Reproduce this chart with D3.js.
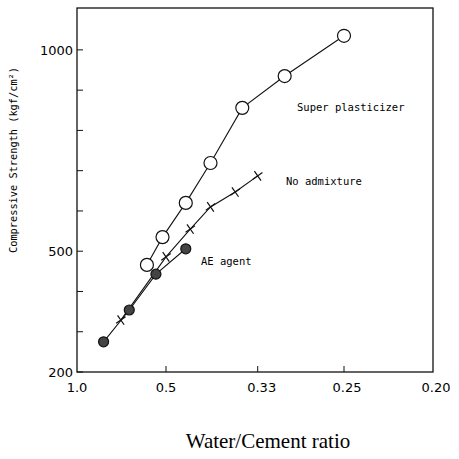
<!DOCTYPE html>
<html lang="en">
  <head>
    <meta charset="utf-8">
    <title>Compressive strength vs W/C</title>
    <script src="https://cdn.jsdelivr.net/npm/d3@7"></script>
  </head>
  <style>
    body, html { margin: 0; padding: 0; background: #fff; }
    svg { display: block; }
  </style>
  <body>
    <svg width="459" height="459"></svg>
  </body>
  <script>
    // water/cement ratios, strengths in kgf/cm2
    const spWC = [0.56, 0.51, 0.45, 0.40, 0.35, 0.30, 0.25]
    const spStrength = [466, 535, 620, 719, 856, 935, 1035]

    const noWC = [0.67, 0.50, 0.44, 0.40, 0.36, 0.33]
    const noStrength = [329, 486, 555, 610, 647, 687]

    const aeWC = [0.77, 0.63, 0.53, 0.45]
    const aeStrength = [275, 354, 443, 506]

    const xTicks = [1.0, 0.5, 0.33, 0.25, 0.20]
    const xTickLabels = ['1.0', '0.5', '0.33', '0.25', '0.20']
    const yTicks = [200, 300, 400, 500, 600, 700, 800, 900, 1000]
    const yTickLabels = ['200', '500', '1000']

    const svg = d3.select('svg')
    const plotLeft = 77, plotRight = 433, plotTop = 8, plotBottom = 372

    // x axis is linear in cement/water ratio, labelled as water/cement
    const xc = d3.scaleLinear().domain([1, 5]).range([plotLeft, plotRight])
    const x = wc => xc(1 / wc)
    const y = d3.scaleLinear().domain([200, 1104]).range([plotBottom, plotTop])

    const frame = svg.append('g').attr('stroke', '#111').attr('fill', 'none')
    frame.append('rect')
      .attr('x', plotLeft).attr('y', plotTop)
      .attr('width', plotRight - plotLeft).attr('height', plotBottom - plotTop)
      .attr('stroke-width', 1.3)

    // inward ticks
    frame.selectAll('.yt').data(yTicks).join('line')
      .attr('x1', plotLeft).attr('x2', plotLeft + 6)
      .attr('y1', d => y(d)).attr('y2', d => y(d))
      .attr('stroke-width', 1)
    frame.selectAll('.xt').data(xTicks.slice(1, 4)).join('line')
      .attr('x1', d => x(d)).attr('x2', d => x(d))
      .attr('y1', plotBottom).attr('y2', plotBottom - 6)
      .attr('stroke-width', 1)

    svg.append('g').selectAll('text').data(yTickLabels).join('text')
      .attr('x', plotLeft - 4).attr('y', d => y(+d) + 5)
      .attr('text-anchor', 'end')
      .attr('font-family', 'DejaVu Sans')
      .attr('font-size', 13)
      .text(d => d)

    svg.append('g').selectAll('text').data(xTicks).join('text')
      .attr('x', (d, i) => x(d) + (i === 2 ? 4 : i === 3 ? 3 : i === 4 ? 3 : 0))
      .attr('y', 392)
      .attr('text-anchor', 'middle')
      .attr('font-family', 'DejaVu Sans')
      .attr('font-size', 13)
      .text((d, i) => xTickLabels[i])

    svg.append('text')
      .attr('transform', 'translate(17,160) rotate(-90)')
      .attr('text-anchor', 'middle')
      .attr('font-family', 'DejaVu Sans Mono')
      .attr('font-size', 10.3)
      .text('Compressive Strength (kgf/cm²)')

    svg.append('text')
      .attr('x', 268).attr('y', 448)
      .attr('text-anchor', 'middle')
      .attr('font-family', 'Liberation Serif')
      .attr('font-size', 21)
      .text('Water/Cement ratio')

    const line = d3.line().x(d => x(d[0])).y(d => y(d[1]))

    function series(wc, vals) { return wc.map((w, i) => [w, vals[i]]) }

    const sp = series(spWC, spStrength)
    const no = series(noWC, noStrength)
    const ae = series(aeWC, aeStrength)

    svg.append('path').datum(sp).attr('d', line)
      .attr('fill', 'none').attr('stroke', '#111').attr('stroke-width', 1.1)
    svg.append('path').datum(no).attr('d', line)
      .attr('fill', 'none').attr('stroke', '#111').attr('stroke-width', 1.1)
    svg.append('path').datum(ae).attr('d', line)
      .attr('fill', 'none').attr('stroke', '#111').attr('stroke-width', 1.1)

    // no admixture: small crosses
    const cross = d3.symbol().type(d3.symbolX).size(45)
    svg.append('g').selectAll('path').data(no).join('path')
      .attr('d', cross)
      .attr('transform', d => 'translate(' + x(d[0]) + ',' + y(d[1]) + ') rotate(10)')
      .attr('fill', 'none').attr('stroke', '#111').attr('stroke-width', 1.2)

    svg.append('g').selectAll('circle').data(sp).join('circle')
      .attr('cx', d => x(d[0])).attr('cy', d => y(d[1]))
      .attr('r', 6.5)
      .attr('fill', '#fff').attr('stroke', '#111').attr('stroke-width', 1.2)

    svg.append('g').selectAll('circle').data(ae).join('circle')
      .attr('cx', d => x(d[0])).attr('cy', d => y(d[1]))
      .attr('r', 5)
      .attr('fill', '#444').attr('stroke', '#111').attr('stroke-width', 1.2)

    const labels = svg.append('g')
      .attr('font-family', 'DejaVu Sans Mono')
      .attr('font-size', 10.5)
    labels.append('text').attr('x', 297).attr('y', 111).text('Super plasticizer')
    labels.append('text').attr('x', 286).attr('y', 185).text('No admixture')
    labels.append('text').attr('x', 201).attr('y', 265).text('AE agent')
  </script>
</html>
